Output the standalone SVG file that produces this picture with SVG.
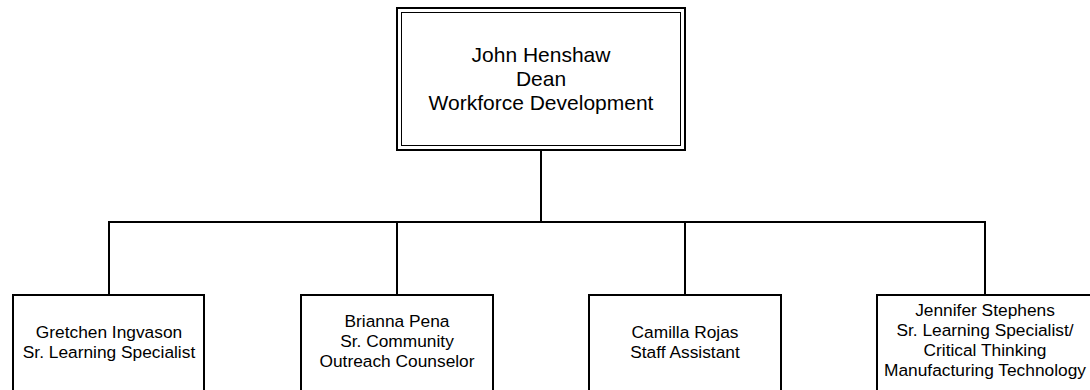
<svg xmlns="http://www.w3.org/2000/svg" width="1090" height="390" viewBox="0 0 1090 390">
<style>
.box{fill:#fff;stroke:#000;stroke-width:2}
.inner{fill:none;stroke:#000;stroke-width:1}
.conn{fill:none;stroke:#000;stroke-width:2}
.t{font-family:"Liberation Sans",Arial,sans-serif;fill:#000;text-anchor:middle}
.big{font-size:21px}
.small{font-size:17.33px}
</style>
<rect width="1090" height="390" fill="#fff"/>
<g id="connectors">
<path class="conn" d="M541 151V222M108 222H986M109 222V295M397 222V295M685 222V295M985 222V295"/>
</g>
<g id="dean">
<rect class="box" x="397" y="8" width="288" height="142"/>
<rect class="inner" x="401.5" y="12.5" width="279" height="133"/>
<text class="t big" x="541" y="61.5">John Henshaw</text>
<text class="t big" x="541" y="85.5">Dean</text>
<text class="t big" x="541" y="109.5">Workforce Development</text>
</g>
<g id="gretchen">
<rect class="box" x="13" y="295" width="191" height="110"/>
<text class="t small" x="109" y="338">Gretchen Ingvason</text>
<text class="t small" x="109" y="358">Sr. Learning Specialist</text>
</g>
<g id="brianna">
<rect class="box" x="301" y="295" width="192" height="110"/>
<text class="t small" x="397" y="327">Brianna Pena</text>
<text class="t small" x="397" y="347">Sr. Community</text>
<text class="t small" x="397" y="367">Outreach Counselor</text>
</g>
<g id="camilla">
<rect class="box" x="589" y="295" width="192" height="110"/>
<text class="t small" x="685" y="338">Camilla Rojas</text>
<text class="t small" x="685" y="358">Staff Assistant</text>
</g>
<g id="jennifer">
<rect class="box" x="877" y="295" width="230" height="110"/>
<text class="t small" x="985" y="316">Jennifer Stephens</text>
<text class="t small" x="985" y="336">Sr. Learning Specialist/</text>
<text class="t small" x="985" y="356">Critical Thinking</text>
<text class="t small" x="985" y="376">Manufacturing Technology</text>
</g>
</svg>
